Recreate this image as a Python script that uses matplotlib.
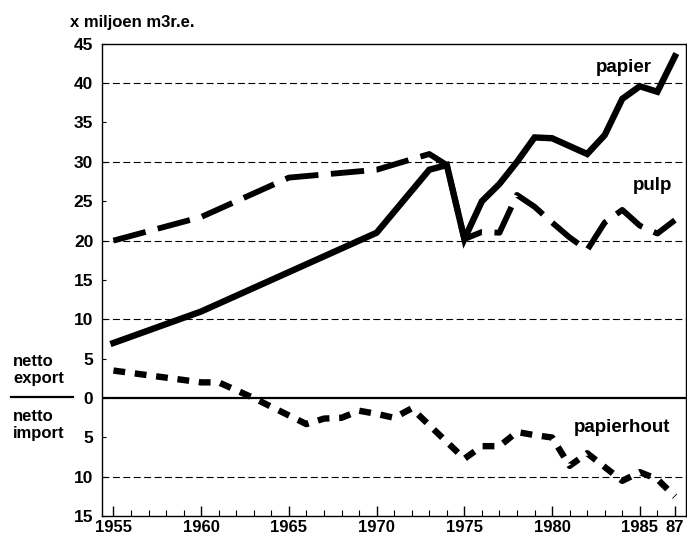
import numpy as np
import matplotlib.pyplot as plt
from matplotlib.ticker import FixedLocator, MultipleLocator

plt.rcParams['font.family'] = ['Liberation Sans', 'DejaVu Sans']
plt.rcParams['font.weight'] = 'bold'
plt.rcParams['lines.scale_dashes'] = False

# papier (net export, million m3 r.e.)
papier_years = [1955, 1960, 1970, 1973, 1974, 1975, 1976, 1977, 1978, 1979,
                1980, 1982, 1983, 1984, 1985, 1986, 1987]
papier_vals = [7, 11, 21, 29, 29.6, 20.2, 25, 27.2, 30, 33.1,
               33, 31, 33.4, 38, 39.6, 38.9, 43.4]

# pulp
pulp_years = [1955, 1960, 1965, 1970, 1973, 1974, 1975, 1976, 1977, 1978,
              1979, 1980, 1981, 1982, 1983, 1984, 1985, 1986, 1987]
pulp_vals = [20, 23, 28, 29, 31, 29.6, 20.2, 21.1, 21, 25.8,
             24.3, 22.3, 20.4, 18.8, 22.3, 23.9, 21.9, 20.9, 22.6]

# papierhout (negative = net import)
hout_years = [1955, 1960, 1961, 1963, 1966, 1967, 1968, 1969, 1970, 1971,
              1972, 1975, 1976, 1977, 1978, 1979, 1980, 1981, 1982, 1984,
              1985, 1986, 1987]
hout_vals = [3.5, 2, 2, 0, -3.3, -2.6, -2.5, -1.6, -2, -2.5,
             -1.3, -7.7, -6.1, -6.1, -4.3, -4.7, -5, -8.6, -7, -10.5,
             -9.4, -10.3, -12.5]

y_ticks = [45, 40, 35, 30, 25, 20, 15, 10, 5, 0, -5, -10, -15]
y_labels = [str(abs(v)) for v in y_ticks]
x_ticks = [1955, 1960, 1965, 1970, 1975, 1980, 1985, 1987]
x_labels = ['1955', '1960', '1965', '1970', '1975', '1980', '1985', '87']
grid_levels = [40, 30, 20, 10, -10]

fig = plt.figure(figsize=(6.87, 5.4), dpi=100)
ax = fig.add_axes([0.148, 0.044, 0.8505, 0.875])

for g in grid_levels:
    ax.axhline(g, color='black', lw=0.8, dashes=(5, 2.5), zorder=1)
ax.axhline(0, color='black', lw=1.6, zorder=1)

ax.plot(pulp_years, pulp_vals, color='black', lw=4.2, dashes=(24, 9),
        solid_joinstyle='miter', zorder=3)
ax.plot(papier_years, papier_vals, color='black', lw=4.6,
        solid_joinstyle='miter', zorder=4)
ax.plot(hout_years, hout_vals, color='black', lw=4.6, dashes=(8.5, 7),
        zorder=3)

ax.set_xlim(1954.33, 1987.63)
ax.set_ylim(-15, 45)

ax.yaxis.set_major_locator(FixedLocator(y_ticks))
ax.set_yticklabels(y_labels, fontsize=12.5, fontweight='bold')
ax.xaxis.set_major_locator(FixedLocator(x_ticks))
ax.set_xticklabels(x_labels, fontsize=12, fontweight='bold')
ax.xaxis.set_minor_locator(MultipleLocator(1))
ax.tick_params(axis='x', which='major', direction='in', length=7, width=1, pad=3)
ax.tick_params(axis='x', which='minor', direction='in', length=4, width=0.8)
ax.tick_params(axis='y', direction='in', length=3, width=0.8, pad=6)
for s in ax.spines.values():
    s.set_linewidth(1.0)

ax.text(1984.1, 42, 'papier', fontsize=13.5, fontweight='bold', ha='center', va='center')
ax.text(1985.7, 27.0, 'pulp', fontsize=13.5, fontweight='bold', ha='center', va='center')
ax.text(1984.0, -3.7, 'papierhout', fontsize=13.5, fontweight='bold', ha='center', va='center')

fig.text(70 / 687, 1 - 22 / 540, 'x miljoen m3r.e.', fontsize=12,
         fontweight='bold', ha='left', va='center')
fig.text(13 / 687, 1 - 370 / 540, 'netto\nexport', fontsize=12,
         fontweight='bold', ha='left', va='center', linespacing=1.2)
fig.text(13 / 687, 1 - 425 / 540, 'netto\nimport', fontsize=12,
         fontweight='bold', ha='left', va='center', linespacing=1.2)
fig.add_artist(plt.Line2D([11 / 687, 73 / 687], [1 - 397 / 540, 1 - 397 / 540],
                          color='black', lw=1.6))

fig.savefig('out.png', dpi=100)
